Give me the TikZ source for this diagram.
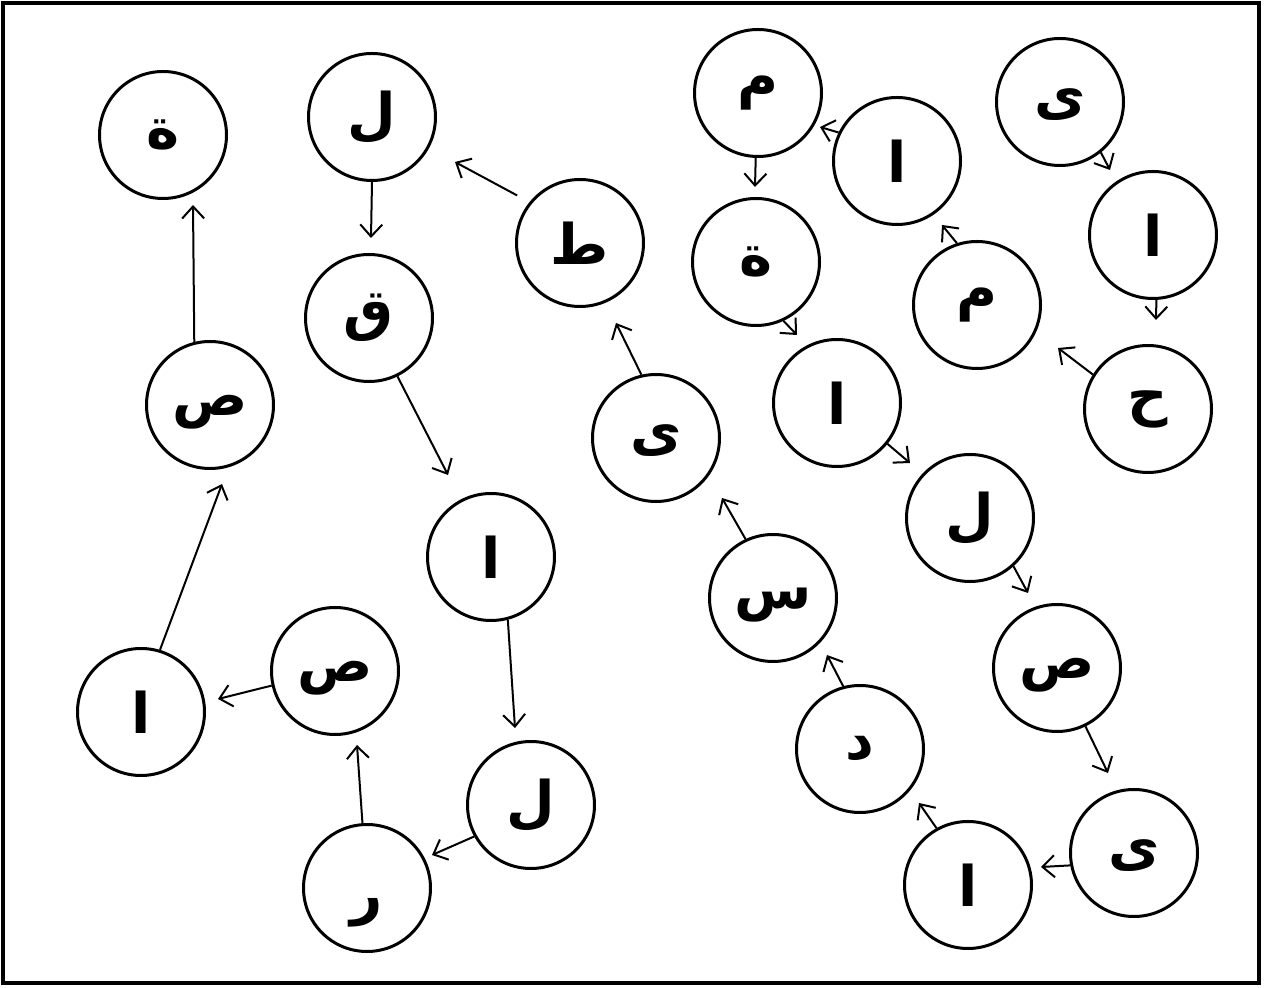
\documentclass[tikz,border=0pt]{standalone}
\usepackage{fontspec}
\usetikzlibrary{arrows.meta}
\TeXXeTstate=1
\newfontfamily\arabicfont[Script=Arabic]{DejaVu Sans}
\begin{document}
\begin{tikzpicture}[x=0.5pt,y=-0.5pt,
  letter/.style={circle,draw,line width=1.5pt,minimum size=63.5pt,inner sep=0pt,
    font=\arabicfont\bfseries\fontsize{28}{32}\selectfont},
  sink/.style={text depth=0pt},
  deepsink/.style={text depth=0pt,text height=0pt},
  arr/.style={line width=1pt,-{Straight Barb[length=6pt,width=11pt,line width=1pt]}},
  frame/.style={line width=2pt}]
\useasboundingbox (0,0) rectangle (1265,988);
\draw[frame] (3,3) rectangle (1259,983);
% nodes
\node[letter] (n1)  at (163,135)  {\beginR ة\endR};
\node[letter] (n2)  at (372,117)  {\beginR ل\endR};
\node[letter] (n3)  at (369,318)  {\beginR ق\endR};
\node[letter] (n4)  at (580,243)  {\beginR ط\endR};
\node[letter] (n5)  at (758,93)   {\beginR م\endR};
\node[letter] (n6)  at (897,161)  {\beginR ا\endR};
\node[letter,sink] (n7)  at (1060,102) {\beginR ى\endR};
\node[letter] (n8)  at (756,262)  {\beginR ة\endR};
\node[letter] (n9)  at (977,305)  {\beginR م\endR};
\node[letter] (n10) at (1153,235) {\beginR ا\endR};
\node[letter] (n11) at (1148,409) {\beginR ح\endR};
\node[letter,sink] (n12) at (210,405)  {\beginR ص\endR};
\node[letter,sink] (n13) at (656,438)  {\beginR ى\endR};
\node[letter] (n14) at (837,403)  {\beginR ا\endR};
\node[letter] (n15) at (491,557)  {\beginR ا\endR};
\node[letter] (n16) at (970,518)  {\beginR ل\endR};
\node[letter,sink] (n17) at (773,598)  {\beginR س\endR};
\node[letter,sink] (n18) at (1057,668) {\beginR ص\endR};
\node[letter] (n19) at (141,712)  {\beginR ا\endR};
\node[letter,sink] (n20) at (335,671)  {\beginR ص\endR};
\node[letter] (n21) at (860,749)  {\beginR د\endR};
\node[letter] (n22) at (531,805)  {\beginR ل\endR};
\node[letter,deepsink] (n23) at (367,888)  {\raisebox{-13pt}{\beginR ر\endR}};
\node[letter,sink] (n24) at (1134,853) {\beginR ى\endR};
\node[letter] (n25) at (968,885)  {\beginR ا\endR};
% arrow tips
\coordinate (t1)  at (193,205);
\coordinate (t2)  at (222,484);
\coordinate (t3)  at (218,699);
\coordinate (t4)  at (357,745);
\coordinate (t5)  at (432,855);
\coordinate (t6)  at (515,728);
\coordinate (t7)  at (448,475);
\coordinate (t8)  at (371,238);
\coordinate (t9)  at (455,162);
\coordinate (t10) at (616,323);
\coordinate (t11) at (722,498);
\coordinate (t12) at (827,655);
\coordinate (t13) at (919,803);
\coordinate (t14) at (1041,867);
\coordinate (t15) at (1108,773);
\coordinate (t16) at (1028,593);
\coordinate (t17) at (910,463);
\coordinate (t18) at (797,335);
\coordinate (t19) at (755,187);
\coordinate (t20) at (820,127);
\coordinate (t21) at (942,225);
\coordinate (t22) at (1058,348);
\coordinate (t23) at (1156,320);
\coordinate (t24) at (1110,170);
% connectors
\draw[arr] (n12.104) -- (t1);
\draw[arr] (n19.73) -- (t2);
\draw[arr] (n20.193) -- (t3);
\draw[arr] (n23.94) -- (t4);
\draw[arr] (n22.209) -- (t5);
\draw[arr] (n15.285) -- (t6);
\draw[arr] (n3.296) -- (t7);
\draw[arr] (n2.270) -- (t8);
\draw[arr,shorten <=7pt] (n4.141) -- (t9);
\draw[arr] (n13.103) -- (t10);
\draw[arr] (n17.115) -- (t11);
\draw[arr] (n21.105) -- (t12);
\draw[arr] (n25.119) -- (t13);
\draw[arr] (n24.191) -- (t14);
\draw[arr] (n18.296) -- (t15);
\draw[arr] (n16.312) -- (t16);
\draw[arr] (n14.321) -- (t17);
\draw[arr] (n8.295) -- (t18);
\draw[arr] (n5.268) -- (t19);
\draw[arr] (n6.154) -- (t20);
\draw[arr] (n9.108) -- (t21);
\draw[arr] (n11.148) -- (t22);
\draw[arr] (n10.273) -- (t23);
\draw[arr] (n7.309) -- (t24);
\end{tikzpicture}
\end{document}
